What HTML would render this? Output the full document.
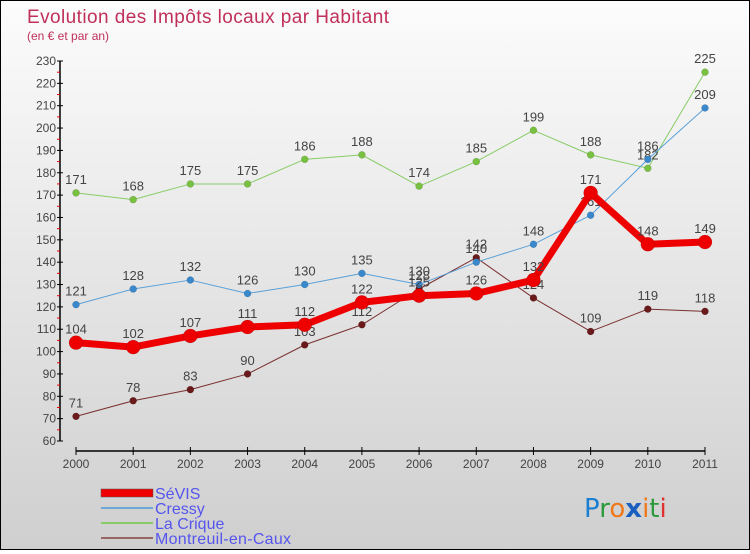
<!DOCTYPE html>
<html><head><meta charset="utf-8"><style>
html,body{margin:0;padding:0}
body{width:750px;height:550px;overflow:hidden;font-family:"Liberation Sans",sans-serif}
#wrap{position:relative;width:748px;height:548px;border:1px solid #000;background:linear-gradient(#fcfcfc,#cfcfcf)}
</style></head><body>
<div id="wrap">
<svg id="chart" width="748" height="548" xmlns="http://www.w3.org/2000/svg" font-family="Liberation Sans, sans-serif">
<text x="26" y="22" font-size="19" fill="#c0305a" textLength="362">Evolution des Impôts locaux par Habitant</text>
<text x="26" y="39" font-size="12" fill="#c0305a">(en € et par an)</text>
<g id="axes"></g><g id="series"></g>
<g>
<rect x="100" y="488" width="52" height="8" fill="#e00" stroke="#555" stroke-width="0.5"/>
<text x="154" y="498" font-size="16" fill="#5555ee">SéVIS</text>
<line x1="100" y1="507" x2="152" y2="507" stroke="#6fa8d6" stroke-width="2"/>
<text x="154" y="513" font-size="16" fill="#5555ee">Cressy</text>
<line x1="100" y1="522" x2="152" y2="522" stroke="#88cc66" stroke-width="2"/>
<text x="154" y="528" font-size="16" fill="#5555ee">La Crique</text>
<line x1="100" y1="537" x2="152" y2="537" stroke="#996666" stroke-width="2"/>
<text x="154" y="543" font-size="16" fill="#5555ee" textLength="136">Montreuil-en-Caux</text>
</g>
<g font-size="26" font-family="DejaVu Sans, sans-serif">
<text x="583" y="516"><tspan fill="#1a7fd0">P</tspan><tspan fill="#2a9a3a">r</tspan><tspan fill="#f07818">o</tspan><tspan fill="#1a5fc0" font-weight="bold">x</tspan><tspan fill="#f07818">i</tspan><tspan fill="#2a9a3a">t</tspan><tspan fill="#e03030">i</tspan></text>
</g>
</svg>
</div>
<script>
const years=["2000","2001","2002","2003","2004","2005","2006","2007","2008","2009","2010","2011"];
const yTicks=[60,70,80,90,100,110,120,130,140,150,160,170,180,190,200,210,220,230];
const sevis=[104,102,107,111,112,122,125,126,132,171,148,149];
const cressy=[121,128,132,126,130,135,130,140,148,161,186,209];
const laCrique=[171,168,175,175,186,188,174,185,199,188,182,225];
const montreuil=[71,78,83,90,103,112,128,142,124,109,119,118];
const NS="http://www.w3.org/2000/svg";
function X(i){return 75+i*(629/11);}
function Y(v){return 440-(v-60)*(380/170);}
function mk(t,a,p){const e=document.createElementNS(NS,t);for(const k in a)e.setAttribute(k,a[k]);p.appendChild(e);return e;}
const ax=document.getElementById('axes');
let yl=mk('line',{x1:59,y1:Y(230),x2:59,y2:Y(60),stroke:'#000','stroke-width':1.5},ax);


yTicks.forEach(v=>{
 mk('line',{x1:56,y1:Y(v),x2:62,y2:Y(v),stroke:'#000'},ax);
 if(v<230) mk('line',{x1:56,y1:Y(v+5),x2:59,y2:Y(v+5),stroke:'#e00'},ax);
 const t=mk('text',{x:55,y:Y(v)+4,'font-size':12,fill:'#444','text-anchor':'end'},ax);t.textContent=v;
 
 
});
let xl=mk('line',{x1:X(0),y1:450,x2:X(11),y2:450,stroke:'#000','stroke-width':1.5},ax);


years.forEach((y,i)=>{
 mk('line',{x1:X(i),y1:446,x2:X(i),y2:454,stroke:'#000'},ax);
 const t=mk('text',{x:X(i),y:467,'font-size':12,fill:'#444','text-anchor':'middle'},ax);t.textContent=y;
 
 
});
const sg=document.getElementById('series');
function draw(name,data,color,w,r,dot){
 const g=mk('g',{},sg);
 
 
 mk('polyline',{points:data.map((v,i)=>X(i)+','+Y(v)).join(' '),fill:'none',stroke:color,'stroke-width':w,'stroke-linejoin':'round'},g);
 data.forEach((v,i)=>{
  const c=mk('circle',{cx:X(i),cy:Y(v),r:r,fill:dot,stroke:'rgba(0,0,0,0.2)','stroke-width':0.5},g);
  
  
  const t=mk('text',{x:X(i),y:Y(v)-9,'font-size':13,fill:'#444','text-anchor':'middle'},g);t.textContent=v;
  
  
 });
}
draw('montreuil',montreuil,'#7a3030',1,3.5,'#6a1a1a');
draw('la-crique',laCrique,'#88cc66',1,3.5,'#77c040');
draw('cressy',cressy,'#5aa0d8',1,3.5,'#3a88cc');
draw('sevis',sevis,'#ee0000',7,7,'#ee0000');
</script>
</body></html>
